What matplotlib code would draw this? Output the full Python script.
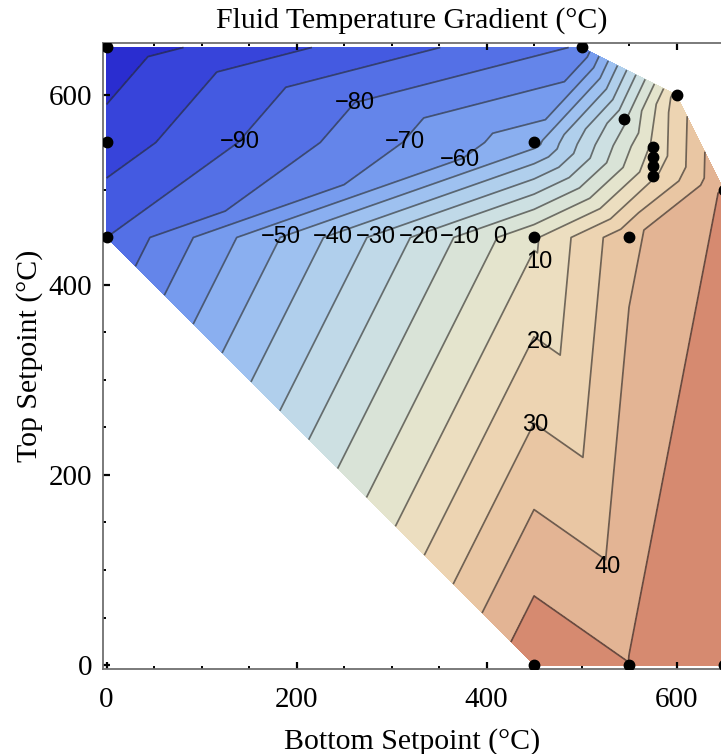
import numpy as np
import matplotlib.pyplot as plt
import matplotlib.tri as mtri
from matplotlib.ticker import MultipleLocator

# measured points: bottom setpoint, top setpoint (degC) and fluid gradient (degC)
bottom_sp = [0, 0, 0, 500, 450, 450, 545, 575, 575, 575, 575, 600, 550, 650, 450, 550, 650]
top_sp = [650, 550, 450, 650, 550, 450, 575, 545, 535, 525, 515, 600, 450, 500, 0, 0, 0]
gradient = [-116, -106, -90, -79, -54, 8.5, -12, 12, 14, 16, 18, 24, 38, 50.8, 58, 50.3, 58]

# mesh connecting the points (indices into the lists above)
mesh = [[0, 1, 4], [0, 4, 3], [1, 2, 4], [2, 5, 4], [2, 14, 5], [5, 14, 15],
        [5, 15, 12], [12, 15, 13], [15, 16, 13], [4, 5, 12], [4, 12, 10],
        [4, 10, 9], [4, 9, 8], [4, 8, 7], [4, 7, 6], [3, 4, 6], [3, 6, 11],
        [6, 7, 11], [11, 7, 13], [7, 8, 13], [8, 9, 13], [9, 10, 13], [10, 12, 13]]

levels = np.arange(-120, 70, 10)
label_levels = [-90, -80, -70, -60, -50, -40, -30, -20, -10, 0, 10, 20, 30, 40]
label_pos = [(140, 550), (261, 592), (314, 550), (372, 532), (184, 450), (238, 450),
             (284, 450), (329, 450), (372, 450), (414, 450), (456, 424), (456, 340),
             (451, 253), (527, 103)]

# fill colour of each band between consecutive levels, blue -> beige -> salmon
band_rgb = [(42, 45, 208), (55, 68, 218), (68, 90, 225), (84, 112, 230),
            (100, 133, 234), (118, 155, 238), (138, 175, 240), (158, 193, 240),
            (176, 207, 236), (192, 217, 232), (205, 224, 226), (217, 227, 215),
            (228, 228, 205), (236, 222, 192), (237, 212, 178), (233, 198, 163),
            (227, 180, 148), (214, 138, 112)]
band_colors = [tuple(c / 255 for c in rgb) for rgb in band_rgb]

serif = 'Liberation Serif'
sans = 'Liberation Sans'

fig = plt.figure(figsize=(7.21, 7.54), dpi=100)
ax = fig.add_axes([103 / 721, 85 / 754, (721 - 103) / 721, (669 - 43) / 754])

tri = mtri.Triangulation(bottom_sp, top_sp, triangles=mesh)
ax.tricontourf(tri, gradient, levels=levels, colors=band_colors)
cs = ax.tricontour(tri, gradient, levels=levels, colors='#202020', linewidths=1.25,
                   alpha=0.6, linestyles='solid', negative_linestyles='solid')

# contour value labels
for lev, (lx, ly) in zip(label_levels, label_pos):
    ax.text(lx, ly, f'{lev:d}'.replace('-', '\u2212'), ha='center', va='center',
            fontsize=17, family=sans, color='black', zorder=4)

ax.plot(bottom_sp, top_sp, 'o', color='black', markersize=7.5, clip_on=True, zorder=5)

ax.set_xlim(-3.7, 646.8)
ax.set_ylim(-4.2, 654.7)
ax.set_xticks([0, 200, 400, 600])
ax.set_yticks([0, 200, 400, 600])
ax.xaxis.set_minor_locator(MultipleLocator(50))
ax.yaxis.set_minor_locator(MultipleLocator(50))
ax.tick_params(which='both', direction='in', top=True, right=False, color='black')
ax.tick_params(which='major', length=5, width=1.6, pad=8, labelsize=21)
ax.tick_params(axis='x', which='major', pad=13)
ax.tick_params(which='minor', length=2.5, width=1.4)
for lbl in ax.get_xticklabels() + ax.get_yticklabels():
    lbl.set_fontfamily(serif)
ax.spines['right'].set_visible(False)
for side in ['left', 'top', 'bottom']:
    ax.spines[side].set_color('#707070')
    ax.spines[side].set_linewidth(1.3)

ax.set_xlabel('Bottom Setpoint (°C)', fontsize=21.5, family=serif, labelpad=11)
ax.set_ylabel('Top Setpoint (°C)', fontsize=21.5, family=serif, labelpad=4)
ax.set_title('Fluid Temperature Gradient (°C)', fontsize=21.5, family=serif, pad=11)

fig.savefig('out.png', dpi=100)
